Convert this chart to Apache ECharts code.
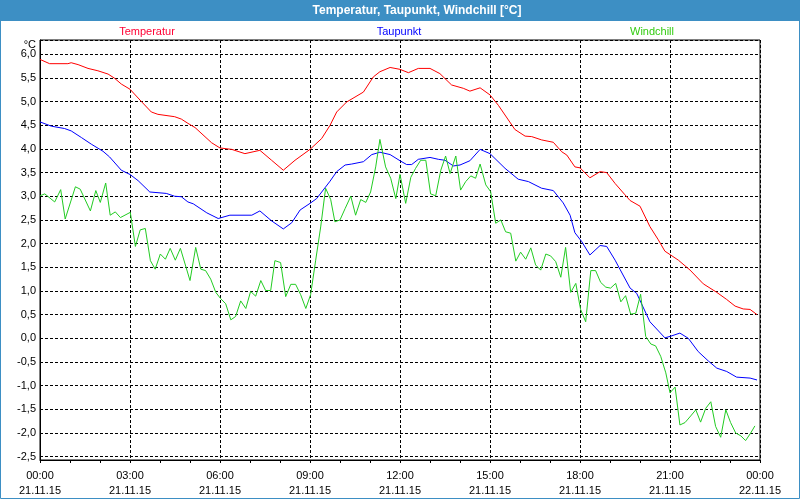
<!DOCTYPE html>
<html>
<head>
<meta charset="utf-8">
<script src="https://cdn.jsdelivr.net/npm/echarts@6/dist/echarts.min.js"></script>
<style>
  html, body { margin: 0; padding: 0; background: #fff; }
  #chart { width: 800px; height: 500px; }
</style>
</head>
<body>
<div id="chart"></div>
<script>
// [Stunde, °C]
var temperatur = [
  [0, 5.89], [0.32, 5.80], [0.93, 5.80], [1.04, 5.82], [1.27, 5.78], [1.6, 5.70], [1.93, 5.65],
  [2.27, 5.58], [2.49, 5.49], [2.71, 5.37], [3.0, 5.26], [3.38, 5.0], [3.71, 4.78], [3.93, 4.73],
  [4.49, 4.68], [4.71, 4.63], [4.93, 4.54], [5.17, 4.45], [5.72, 4.13], [6.0, 4.02], [6.39, 3.99],
  [6.83, 3.90], [7.33, 3.97], [7.72, 3.76], [8.11, 3.55], [8.5, 3.76], [9.0, 3.99], [9.39, 4.22],
  [9.67, 4.50], [9.89, 4.78], [10.22, 4.99], [10.78, 5.20], [11.11, 5.52], [11.33, 5.63],
  [11.67, 5.72], [12.0, 5.68], [12.28, 5.61], [12.61, 5.70], [13.0, 5.70], [13.33, 5.59],
  [13.72, 5.35], [14.11, 5.28], [14.33, 5.22], [14.67, 5.29], [15.0, 5.14], [15.28, 4.92],
  [15.83, 4.41], [16.17, 4.27], [16.39, 4.26], [16.72, 4.19], [17.11, 4.14], [17.39, 3.94],
  [17.56, 3.87], [17.83, 3.62], [18.0, 3.60], [18.33, 3.39], [18.67, 3.52], [18.89, 3.50],
  [19.17, 3.27], [19.5, 3.03], [19.67, 2.91], [20.0, 2.79], [20.33, 2.36], [20.61, 2.08],
  [20.83, 1.84], [21.28, 1.65], [21.67, 1.44], [22.11, 1.15], [22.56, 0.97], [22.89, 0.82],
  [23.17, 0.68], [23.44, 0.62], [23.67, 0.61], [23.9, 0.5]
];
var taupunkt = [
  [0, 4.57], [0.38, 4.48], [0.82, 4.43], [1.04, 4.38], [1.38, 4.24], [1.71, 4.10], [2.1, 3.95],
  [2.32, 3.83], [2.71, 3.55], [3.0, 3.46], [3.27, 3.33], [3.66, 3.09], [4.21, 3.06], [4.49, 3.0],
  [4.71, 2.99], [4.93, 2.88], [5.11, 2.84], [5.56, 2.65], [5.94, 2.53], [6.33, 2.60], [7.06, 2.60],
  [7.33, 2.69], [7.72, 2.48], [8.11, 2.31], [8.39, 2.44], [8.67, 2.71], [9.0, 2.85], [9.22, 2.95],
  [9.67, 3.32], [9.89, 3.52], [10.17, 3.66], [10.39, 3.68], [10.78, 3.73], [11.06, 3.88],
  [11.33, 3.93], [11.67, 3.88], [12.0, 3.75], [12.22, 3.67], [12.39, 3.67], [12.61, 3.78],
  [13.0, 3.82], [13.28, 3.78], [13.5, 3.76], [13.78, 3.64], [14.0, 3.66], [14.33, 3.75],
  [14.67, 3.99], [15.0, 3.90], [15.5, 3.59], [15.94, 3.36], [16.28, 3.31], [16.72, 3.17],
  [17.11, 3.12], [17.44, 2.86], [17.67, 2.60], [17.83, 2.23], [18.06, 2.04], [18.33, 1.76],
  [18.67, 1.96], [18.89, 1.94], [19.17, 1.65], [19.33, 1.46], [19.67, 1.06], [19.89, 0.95],
  [20.33, 0.35], [20.83, 0.01], [21.0, 0.04], [21.33, 0.11], [21.61, 0.0], [21.94, -0.28],
  [22.28, -0.48], [22.56, -0.63], [22.89, -0.70], [23.22, -0.82], [23.67, -0.84], [23.9, -0.88]
];
var windchill = [
  [0, 3.01], [0.16, 3.05], [0.49, 2.88], [0.69, 3.14], [0.84, 2.52], [1.18, 3.20], [1.34, 3.15],
  [1.68, 2.69], [1.86, 3.12], [2.01, 2.87], [2.19, 3.28], [2.34, 2.60], [2.51, 2.67], [2.68, 2.55],
  [3.01, 2.66], [3.18, 1.94], [3.34, 2.29], [3.51, 2.32], [3.68, 1.64], [3.84, 1.46], [4.01, 1.78],
  [4.18, 1.67], [4.34, 1.90], [4.51, 1.65], [4.68, 1.90], [5.0, 1.22], [5.19, 1.92], [5.36, 1.46],
  [5.52, 1.43], [5.69, 1.25], [5.86, 0.97], [6.02, 0.84], [6.19, 0.73], [6.36, 0.39], [6.52, 0.46],
  [6.69, 0.79], [6.86, 0.63], [7.02, 0.99], [7.19, 0.89], [7.36, 1.22], [7.52, 1.01], [7.69, 1.01],
  [7.83, 1.64], [8.02, 1.60], [8.19, 0.88], [8.36, 1.14], [8.52, 1.14], [8.69, 0.92], [8.86, 0.63],
  [9.02, 0.92], [9.19, 1.65], [9.36, 2.37], [9.52, 3.17], [9.69, 2.93], [9.83, 2.46], [10.0, 2.50],
  [10.17, 2.74], [10.36, 3.0], [10.52, 2.60], [10.69, 2.93], [10.86, 2.87], [11.02, 3.09],
  [11.19, 3.62], [11.33, 4.20], [11.52, 3.62], [11.69, 3.38], [11.86, 2.95], [12.0, 3.46],
  [12.19, 2.85], [12.36, 3.40], [12.52, 3.59], [12.69, 3.76], [12.86, 3.76], [13.02, 3.05],
  [13.19, 3.01], [13.36, 3.55], [13.52, 3.85], [13.67, 3.48], [13.86, 3.85], [14.02, 3.13],
  [14.19, 3.31], [14.36, 3.43], [14.52, 3.38], [14.67, 3.68], [14.86, 3.24], [15.02, 3.10],
  [15.19, 2.43], [15.36, 2.50], [15.52, 2.25], [15.69, 2.22], [15.86, 1.63], [16.02, 1.82],
  [16.19, 1.67], [16.36, 1.91], [16.52, 1.55], [16.69, 1.44], [16.86, 1.78], [17.02, 1.74],
  [17.19, 1.62], [17.36, 1.29], [17.52, 1.92], [17.69, 0.97], [17.86, 1.16], [18.02, 0.61],
  [18.19, 0.35], [18.36, 1.43], [18.52, 1.43], [18.69, 1.18], [18.86, 1.08], [19.02, 1.06],
  [19.19, 1.16], [19.36, 0.77], [19.52, 0.90], [19.69, 0.51], [19.86, 0.53], [20.02, 0.93],
  [20.19, 0.04], [20.36, -0.12], [20.52, -0.16], [20.69, -0.38], [20.86, -0.73], [21.0, -1.15],
  [21.17, -1.03], [21.33, -1.83], [21.5, -1.78], [21.69, -1.64], [21.86, -1.51], [22.02, -1.77],
  [22.19, -1.48], [22.36, -1.34], [22.52, -1.86], [22.69, -2.09], [22.86, -1.51], [23.02, -1.78],
  [23.19, -2.0], [23.36, -2.06], [23.52, -2.16], [23.69, -2.0], [23.83, -1.85]
];
var seriesNames = ["Temperatur", "Taupunkt", "Windchill"];
var seriesColors = ["#ff0000", "#0000ff", "#22cc22"];
var hourLabels = ["00:00", "03:00", "06:00", "09:00", "12:00", "15:00", "18:00", "21:00", "00:00"];
var dateLabels = ["21.11.15", "21.11.15", "21.11.15", "21.11.15", "21.11.15", "21.11.15", "21.11.15", "21.11.15", "22.11.15"];

var FONT = "Liberation Sans";
var myChart = echarts.init(document.getElementById("chart"), null, { renderer: "canvas" });

myChart.setOption({
  animation: false,
  backgroundColor: "#ffffff",
  grid: {
    left: 40,
    right: 40,
    top: 40,
    bottom: 40,
    show: true,
    borderColor: "#000",
    borderWidth: 1,
    backgroundColor: "transparent"
  },
  graphic: [
    {
      type: "rect",
      shape: { x: 0, y: 0, width: 800, height: 21 },
      style: { fill: "#3d8fc4" }
    },
    {
      type: "rect",
      shape: { x: 0.5, y: 0.5, width: 799, height: 498 },
      style: { fill: "none", stroke: "#3d8fc4", lineWidth: 1 }
    },
    {
      type: "text",
      x: 417,
      y: 11,
      style: {
        text: "Temperatur, Taupunkt, Windchill [°C]",
        fill: "#fff",
        font: "bold 12px " + FONT,
        textAlign: "center",
        textVerticalAlign: "middle"
      }
    },
    {
      type: "text",
      x: 147,
      y: 32,
      style: { text: seriesNames[0], fill: "#ff0033", font: "11px " + FONT, textAlign: "center", textVerticalAlign: "middle" }
    },
    {
      type: "text",
      x: 399,
      y: 32,
      style: { text: seriesNames[1], fill: "#0000ff", font: "11px " + FONT, textAlign: "center", textVerticalAlign: "middle" }
    },
    {
      type: "text",
      x: 652,
      y: 32,
      style: { text: seriesNames[2], fill: "#33cc11", font: "11px " + FONT, textAlign: "center", textVerticalAlign: "middle" }
    },
    {
      type: "text",
      x: 36,
      y: 45,
      style: { text: "°C", fill: "#000", font: "11px " + FONT, textAlign: "right", textVerticalAlign: "middle" }
    }
  ],
  xAxis: {
    type: "value",
    min: 0,
    max: 24,
    interval: 3,
    axisLine: { show: true, onZero: false, lineStyle: { color: "#000", width: 1 } },
    axisTick: { show: true, length: 3, lineStyle: { color: "#000" } },
    minorTick: { show: true, splitNumber: 3, length: 3, lineStyle: { color: "#000" } },
    splitLine: { show: true, lineStyle: { color: "#000", type: [3, 2], width: 1 } },
    axisLabel: {
      margin: 8,
      color: "#000",
      fontFamily: FONT,
      fontSize: 11,
      lineHeight: 15,
      formatter: function(val) {
        var i = Math.round(val / 3);
        return hourLabels[i] + "\n" + dateLabels[i];
      }
    }
  },
  yAxis: {
    type: "value",
    min: -2.57,
    max: 6.3,
    splitNumber: 18,
    minInterval: 0.5,
    maxInterval: 0.5,
    axisLine: { show: true, onZero: false, lineStyle: { color: "#000", width: 1 } },
    axisTick: { show: false },
    splitLine: { show: true, lineStyle: { color: "#000", type: [3, 2], width: 1 } },
    axisLabel: {
      margin: 4,
      color: "#000",
      fontFamily: FONT,
      fontSize: 11,
      showMinLabel: false,
      showMaxLabel: false,
      formatter: function(val) {
        return val.toFixed(1).replace(".", ",");
      }
    }
  },
  series: [
    {
      name: seriesNames[0],
      type: "line",
      showSymbol: false,
      lineStyle: { color: seriesColors[0], width: 1 },
      data: temperatur
    },
    {
      name: seriesNames[1],
      type: "line",
      showSymbol: false,
      lineStyle: { color: seriesColors[1], width: 1 },
      data: taupunkt
    },
    {
      name: seriesNames[2],
      type: "line",
      showSymbol: false,
      lineStyle: { color: seriesColors[2], width: 1 },
      data: windchill
    }
  ]
});
</script>
</body>
</html>
